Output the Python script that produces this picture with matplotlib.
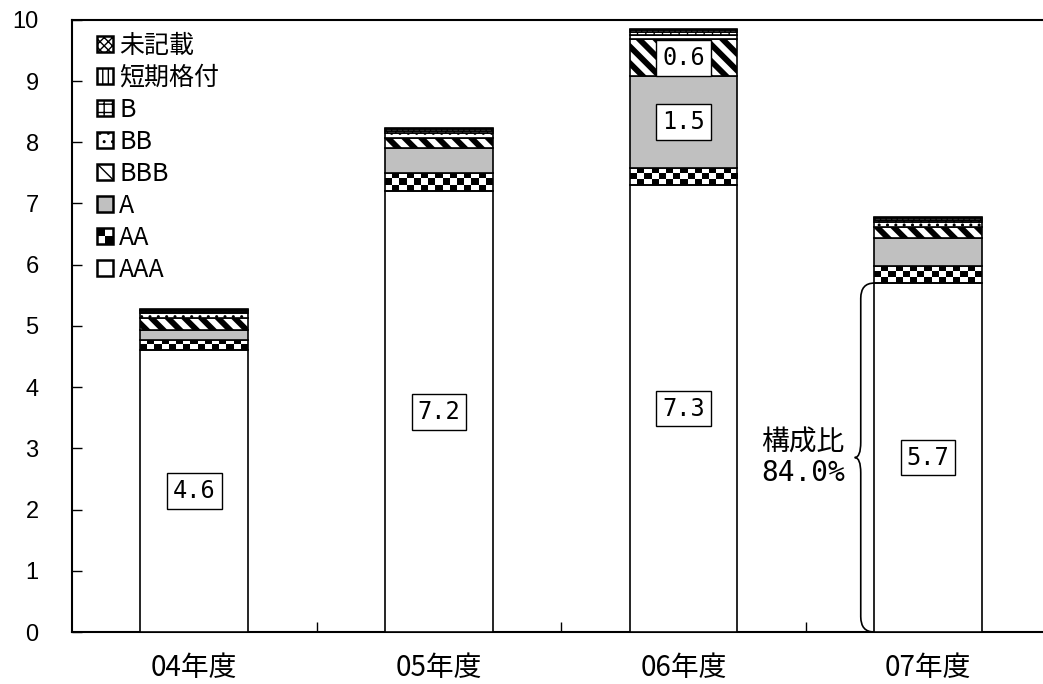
import numpy as np
import matplotlib
matplotlib.use("Agg")
import matplotlib.pyplot as plt
from matplotlib.patches import Rectangle, PathPatch
from matplotlib.path import Path
from matplotlib.legend_handler import HandlerBase

plt.rcParams['font.family'] = ['Liberation Sans', 'Noto Sans CJK JP']

# 格付別の発行額（兆円）
years = ['04年度', '05年度', '06年度', '07年度']
grades = ['AAA', 'AA', 'A', 'BBB', 'BB', 'B', '短期格付', '未記載']
aaa = [4.6, 7.2, 7.3, 5.7]
aa = [0.17, 0.30, 0.28, 0.28]
a = [0.16, 0.40, 1.5, 0.46]
bbb = [0.20, 0.17, 0.6, 0.18]
bb = [0.08, 0.08, 0.08, 0.08]
b = [0.03, 0.04, 0.04, 0.03]
short = [0.02, 0.03, 0.03, 0.04]
unknown = [0.02, 0.02, 0.02, 0.016]

# 数値ラベルを付ける区分と年度
labelled = [('AAA', 0), ('AAA', 1), ('AAA', 2), ('AAA', 3), ('A', 2), ('BBB', 2)]

series = [aaa, aa, a, bbb, bb, b, short, unknown]
styles = {
    'AAA': dict(facecolor='white', hatch=None),
    'AA': dict(facecolor='none', hatch=None),
    'A': dict(facecolor='#c0c0c0', hatch=None),
    'BBB': dict(facecolor='white', hatch='\\\\'),
    'BB': dict(facecolor='white', hatch='..'),
    'B': dict(facecolor='white', hatch='++'),
    '短期格付': dict(facecolor='white', hatch='|||'),
    '未記載': dict(facecolor='white', hatch='xxxx'),
}
hatch_lw = {'BBB': 4.2}

fig = plt.figure(figsize=(10.43, 6.84), dpi=100)
ax = fig.add_axes([0.069, 0.076, 0.938, 0.895])

x = np.arange(len(years))
width = 0.44
bottom = np.zeros(len(years))
bars = {}
for name, vals in zip(grades, series):
    st = styles[name]
    with plt.rc_context({'hatch.linewidth': hatch_lw.get(name, 1.0)}):
        bc = ax.bar(x, vals, width, bottom=bottom, facecolor=st['facecolor'],
                    hatch=st['hatch'], edgecolor='black', linewidth=1.2,
                    zorder=3, label=name)
    bars[name] = (bc, bottom.copy(), np.array(vals))
    bottom = bottom + np.array(vals)
totals = bottom

# AA は市松模様
px_per_unit = 612 / 10
bc, base, vals = bars['AA']
for i in range(len(years)):
    rows = max(2, int(round(vals[i] * px_per_unit / 6.5)))
    cols = 15
    board = (np.indices((rows, cols)).sum(axis=0) % 2).astype(float)
    ax.imshow(board, cmap='gray_r', vmin=0, vmax=1, interpolation='nearest',
              extent=(x[i] - width / 2, x[i] + width / 2, base[i], base[i] + vals[i]),
              aspect='auto', zorder=2.5)

# 数値ラベル
for name, i in labelled:
    _, base, vals = bars[name]
    ax.text(x[i], base[i] + vals[i] / 2, f'{vals[i]:.1f}', ha='center', va='center',
            fontsize=17, family=['DejaVu Sans Mono'], zorder=5,
            bbox=dict(boxstyle='square,pad=0.25', fc='white', ec='black', lw=1))

# 07年度 AAA の構成比（波かっこ）
i = 3
xb = x[i] - width / 2
top = aaa[i]
mid = top / 2
d, tip, r = 0.055, 0.08, 0.25
verts = [(xb, top), (xb - d, top), (xb - d, top - r),
         (xb - d, mid + r),
         (xb - d, mid), (xb - tip, mid),
         (xb - d, mid), (xb - d, mid - r),
         (xb - d, r),
         (xb - d, 0), (xb, 0)]
codes = [Path.MOVETO, Path.CURVE3, Path.CURVE3, Path.LINETO, Path.CURVE3, Path.CURVE3,
         Path.CURVE3, Path.CURVE3, Path.LINETO, Path.CURVE3, Path.CURVE3]
ax.add_patch(PathPatch(Path(verts, codes), fill=False, lw=1.2, ec='black', zorder=4))
share = aaa[i] / totals[i]
ax.annotate(f'構成比\n{share:.1%}', xy=(xb - tip, mid), xytext=(-7, 0),
            textcoords='offset points', ha='right', va='center', ma='left',
            fontsize=20, family=['DejaVu Sans Mono', 'Noto Sans CJK JP'], linespacing=1.1)


class CheckerHandler(HandlerBase):
    def create_artists(self, legend, orig_handle, xdescent, ydescent, width, height,
                       fontsize, trans):
        x0, y0 = -xdescent, -ydescent
        w, h = width / 2, height / 2
        arts = [Rectangle((x0, y0), width, height, fc='white', ec='black', lw=1.8,
                          transform=trans)]
        for dx, dy in [(0, 1), (1, 0)]:
            arts.append(Rectangle((x0 + dx * w, y0 + dy * h), w, h, fc='black',
                                  ec='none', transform=trans))
        return arts


handles = [bars[g][0] for g in grades][::-1]
labels = grades[::-1]
leg = ax.legend(handles, labels, loc='upper left', bbox_to_anchor=(0.015, 0.995),
                frameon=False, handlelength=0.65, handleheight=0.65,
                handletextpad=0.25, labelspacing=0.24, borderaxespad=0,
                handler_map={bars['AA'][0]: CheckerHandler()},
                prop={'family': ['Noto Sans CJK JP'], 'size': 18})
for h in leg.legend_handles:
    if h is not None and hasattr(h, 'set_linewidth'):
        h.set_linewidth(1.8)

ax.set_xlim(-0.5, len(years) - 0.5)
ax.set_ylim(0, 10)
ax.set_yticks(range(0, 11))
ax.tick_params(axis='y', direction='in', length=7, labelsize=17, width=1, pad=24)
ax.set_xticks(x)
ax.set_xticklabels(years, family=['Noto Sans CJK JP'], fontsize=20)
ax.tick_params(axis='x', length=0, pad=15)
ax.set_xticks(x[:-1] + 0.5, minor=True)
ax.tick_params(axis='x', which='minor', direction='in', length=7, width=1)
for s in ['left', 'bottom', 'top']:
    ax.spines[s].set_linewidth(1.5)
ax.spines['right'].set_visible(False)

fig.savefig('out.png', dpi=100)
